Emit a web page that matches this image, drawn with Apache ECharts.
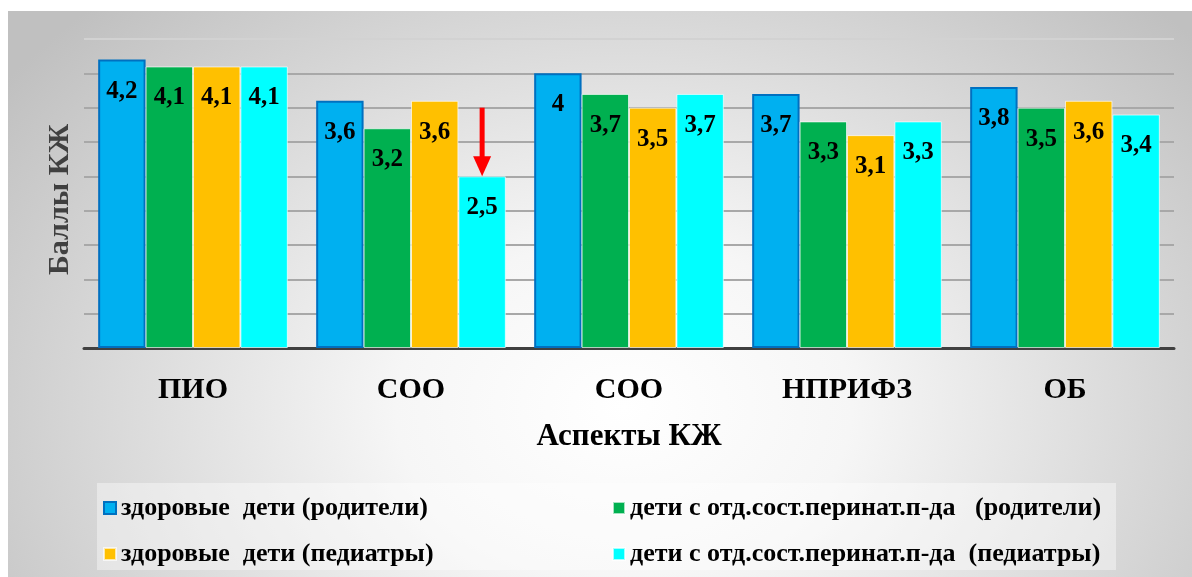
<!DOCTYPE html>
<html>
<head>
<meta charset="utf-8">
<script src="https://cdn.jsdelivr.net/npm/echarts@6/dist/echarts.min.js"></script>
<style>
  html, body { margin: 0; padding: 0; background: #ffffff; }
  #backdrop {
    position: absolute; left: 8px; top: 11px; width: 1184px; height: 566px;
    background: radial-gradient(ellipse 760px 560px at 52% 70%, #ffffff 0%, #f6f6f6 30%, #c0c0c0 100%);
  }
  #chart { position: absolute; left: 0; top: 0; width: 1192px; height: 577px; }
</style>
</head>
<body>
<div id="backdrop"></div>
<div id="chart"></div>
<script>
// Aspects of quality of life (categories on the x axis)
const categories = ['ПИО', 'СОО', 'СОО', 'НПРИФЗ', 'ОБ'];

const seriesNames = [
  'здоровые  дети (родители)',
  'дети с отд.сост.перинат.п-да   (родители)',
  'здоровые  дети (педиатры)',
  'дети с отд.сост.перинат.п-да  (педиатры)'
];

// Scores, one value per category
const healthyParents         = [4.2, 3.6, 4.0, 3.7, 3.8];
const perinatalParents       = [4.1, 3.2, 3.7, 3.3, 3.5];
const healthyPediatricians   = [4.1, 3.6, 3.5, 3.1, 3.6];
const perinatalPediatricians = [4.1, 2.5, 3.7, 3.3, 3.4];

// Value axis range and step
const yMin = 0;
const yMax = 4.5;
const yStep = 0.5;

// Arrow pointing at the lowest score: [category index, start value, end value]
const arrowMark = [[1, 3.5, 2.5]];

const FONT = "'Liberation Serif', 'Times New Roman', serif";
const CATEGORY_GAP = 0.13;
const BARS_PER_GROUP = 4;

const thinBorder = 'rgba(255,255,255,0.65)';
const barStyles = [
  { color: '#00b0f0', borderColor: '#0070c0', borderWidth: 2 },
  { color: '#00b050', borderColor: thinBorder, borderWidth: 1 },
  { color: '#ffc000', borderColor: thinBorder, borderWidth: 1 },
  { color: '#00ffff', borderColor: thinBorder, borderWidth: 1 }
];
const seriesValues = [healthyParents, perinatalParents, healthyPediatricians, perinatalPediatricians];

const barSeries = seriesValues.map((vals, i) => ({
  name: seriesNames[i],
  type: 'bar',
  data: vals,
  barGap: '0%',
  barCategoryGap: (CATEGORY_GAP * 100) + '%',
  itemStyle: barStyles[i],
  label: {
    show: true,
    position: 'insideTop',
    distance: 19,
    color: '#000',
    fontFamily: FONT,
    fontWeight: 'bold',
    fontSize: 25,
    formatter: p => String(p.value).replace('.', ',')
  }
}));

const arrowSeries = {
  type: 'custom',
  data: arrowMark,
  z: 10,
  silent: true,
  renderItem: function (params, api) {
    const band = api.size([1, 0])[0];
    const barW = band * (1 - CATEGORY_GAP) / BARS_PER_GROUP;
    const dx = 1.5 * barW; // centre of the fourth bar in the group
    const p0 = api.coord([api.value(0), api.value(1)]);
    const p1 = api.coord([api.value(0), api.value(2)]);
    const x = p0[0] + dx;
    const headLen = 20, headW = 18;
    return {
      type: 'group',
      children: [
        { type: 'line', shape: { x1: x, y1: p0[1], x2: x, y2: p1[1] - headLen + 2 },
          style: { stroke: '#ff0000', lineWidth: 5 } },
        { type: 'polygon',
          shape: { points: [[x - headW / 2, p1[1] - headLen], [x + headW / 2, p1[1] - headLen], [x, p1[1]]] },
          style: { fill: '#ff0000' } }
      ]
    };
  }
};

const legendText = { fontFamily: FONT, fontWeight: 'bold', fontSize: 26, color: '#000' };
const legendCommon = {
  orient: 'vertical', top: 495, padding: 0, itemGap: 20, itemWidth: 12, itemHeight: 12,
  icon: 'rect', textStyle: legendText, selectedMode: false
};

// grid lines: the top one is drawn lighter
const gridLineColors = ['#a8a8a8', '#a8a8a8', '#a8a8a8', '#a8a8a8', '#a8a8a8',
                        '#a8a8a8', '#a8a8a8', '#a8a8a8', '#a8a8a8', '#d2d2d2'];

const chart = echarts.init(document.getElementById('chart'), null, { renderer: 'canvas' });
chart.setOption({
  animation: false,
  backgroundColor: 'transparent',
  grid: { left: 84, right: 18, top: 39, bottom: 229, containLabel: false },
  graphic: [{
    type: 'rect', left: 97, top: 483, z: 0,
    shape: { width: 1019, height: 87 },
    style: { fill: 'rgba(255,255,255,0.4)' }
  }],
  legend: [
    Object.assign({ left: 103, data: [seriesNames[0], seriesNames[2]] }, legendCommon),
    Object.assign({ left: 612, data: [seriesNames[1], seriesNames[3]] }, legendCommon)
  ],
  xAxis: {
    type: 'category',
    data: categories,
    axisLine: { lineStyle: { color: '#404040', width: 3 } },
    axisTick: { show: false },
    axisLabel: { color: '#000', fontFamily: FONT, fontWeight: 'bold', fontSize: 30, margin: 27 },
    name: 'Аспекты КЖ',
    nameLocation: 'middle',
    nameGap: 73,
    nameTextStyle: { color: '#000', fontFamily: FONT, fontWeight: 'bold', fontSize: 31 }
  },
  yAxis: {
    type: 'value',
    min: yMin, max: yMax, interval: yStep,
    axisLabel: { show: false },
    axisLine: { show: false },
    axisTick: { show: false },
    splitLine: { lineStyle: { color: gridLineColors, width: 2 } },
    name: 'Баллы КЖ',
    nameLocation: 'middle',
    nameRotate: 90,
    nameGap: 9,
    nameTextStyle: { color: '#404040', fontFamily: FONT, fontWeight: 'bold', fontSize: 30, padding: [0, 12, 0, 0] }
  },
  tooltip: { show: false },
  series: barSeries.concat([arrowSeries])
});
</script>
</body>
</html>
